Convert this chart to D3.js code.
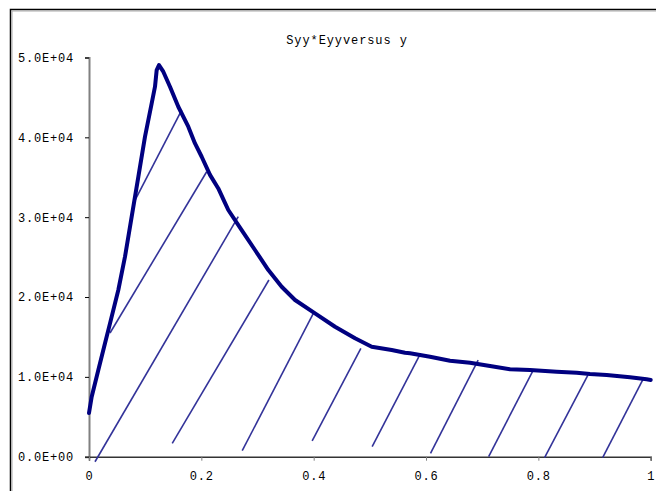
<!DOCTYPE html>
<html lang="en">
<head>
  <meta charset="UTF-8">
  <title>Syy*Eyy versus y</title>
  <script src="https://d3js.org/d3.v7.min.js"></script>
  <style>
    body { margin: 0; background: #fff; }
    svg { display: block; }
    .axis text { font-family: "Liberation Mono", "Courier New", monospace; font-size: 12px; fill: #000; letter-spacing: 0.8px; }
    .title { font-family: "Liberation Mono", "Courier New", monospace; font-size: 12px; letter-spacing: 0.9px; }
  </style>
</head>
<body>
  <div id="chart"></div>
  <script>
    // y (depth ratio) vs Syy*Eyy
    const yPos = [0, 0.0048, 0.0166, 0.0285, 0.0374, 0.0522, 0.0641, 0.0760, 0.0879, 0.0997,
      0.1116, 0.1175, 0.1205, 0.1246, 0.1323, 0.1442, 0.1590, 0.1768, 0.1887, 0.2006,
      0.2154, 0.2302, 0.2421, 0.2480, 0.2718, 0.2955, 0.3193, 0.3430, 0.3668, 0.4024,
      0.4380, 0.4736, 0.5033, 0.5389, 0.5626, 0.5715, 0.6071, 0.6427, 0.6783, 0.7139,
      0.7496, 0.7852, 0.8326, 0.8682, 0.8919, 0.9216, 0.9631, 0.9928, 1.0];
    const syyEyy = [5470, 7520, 10860, 14200, 16700, 20880, 25050, 30060, 35070, 40080,
      44260, 46340, 48430, 49050, 48220, 46340, 43830, 41330, 39240, 37570,
      35300, 33600, 31800, 30900, 28390, 25890, 23380, 21290, 19630, 17960,
      16280, 14830, 13780, 13360, 13020, 12950, 12520, 12020, 11770, 11360,
      10950, 10860, 10640, 10520, 10360, 10230, 9940, 9690, 9610];

    // hatch strokes under the curve: [x1, v1, x2, v2]
    const hatch = [
      [0.0790, 31730, 0.1650, 43420],
      [0.0374, 15490, 0.2095, 35690],
      [0.0107, -630, 0.2657, 30060],
      [0.1482, 1680, 0.3203, 22130],
      [0.2728, 750, 0.4010, 18160],
      [0.3973, 1970, 0.4840, 13580],
      [0.5041, 1250, 0.5903, 12950],
      [0.6080, 430, 0.6928, 12110],
      [0.7115, 0, 0.7916, 10950],
      [0.8111, -130, 0.8882, 10230],
      [0.9145, -130, 0.9858, 9610]
    ];

    const xTicks = [0, 0.2, 0.4, 0.6, 0.8, 1];
    const xTickLabels = ["0", "0.2", "0.4", "0.6", "0.8", "1"];
    const yTicks = [0, 10000, 20000, 30000, 40000, 50000];
    const yTickLabels = ["0.0E+00", "1.0E+04", "2.0E+04", "3.0E+04", "4.0E+04", "5.0E+04"];

    const width = 656, height = 491;
    const svg = d3.select('#chart').append('svg')
      .attr('width', width).attr('height', height);

    // outer chart frame (runs off the right/bottom edges)
    svg.append('rect')
      .attr('x', 10.5).attr('y', 9.5).attr('width', 700).attr('height', 600)
      .attr('fill', 'none').attr('stroke', '#000').attr('stroke-width', 1.5);
    svg.append('rect')
      .attr('x', 12).attr('y', 11).attr('width', 700).attr('height', 600)
      .attr('fill', 'none').attr('stroke', '#aaa').attr('stroke-width', 1);

    const x = d3.scaleLinear().domain([0, 1]).range([89, 650.7]);
    const y = d3.scaleLinear().domain([0, 50000]).range([456.7, 57.5]);

    svg.append('text').attr('class', 'title')
      .attr('x', 347).attr('y', 44).attr('text-anchor', 'middle')
      .text('Syy*Eyyversus y');

    const yAxis = svg.append('g').attr('class', 'axis')
      .attr('transform', 'translate(' + x(0) + ',0)')
      .call(d3.axisLeft(y).tickValues(yTicks)
        .tickFormat((d, i) => yTickLabels[i]).tickSize(4).tickPadding(11));
    yAxis.select('.domain').attr('stroke', '#808080').attr('stroke-width', 2);
    yAxis.selectAll('.tick line').attr('stroke', '#000');

    const xAxis = svg.append('g').attr('class', 'axis')
      .attr('transform', 'translate(0,' + y(0) + ')')
      .call(d3.axisBottom(x).tickValues(xTicks)
        .tickFormat((d, i) => xTickLabels[i]).tickSize(4).tickPadding(11));
    xAxis.select('.domain').attr('stroke', '#333').attr('stroke-width', 1.5);
    xAxis.selectAll('.tick line').attr('stroke', '#808080');

    svg.append('g').selectAll('line')
      .data(hatch)
      .enter().append('line')
      .attr('x1', d => x(d[0])).attr('y1', d => y(d[1]))
      .attr('x2', d => x(d[2])).attr('y2', d => y(d[3]))
      .attr('stroke', '#333399').attr('stroke-width', 1.6);

    const line = d3.line()
      .x((d, i) => x(yPos[i]))
      .y(d => y(d));

    svg.append('path')
      .datum(syyEyy)
      .attr('d', line)
      .attr('fill', 'none')
      .attr('stroke', '#000080')
      .attr('stroke-width', 4)
      .attr('stroke-linejoin', 'round')
      .attr('stroke-linecap', 'round');
  </script>
</body>
</html>
